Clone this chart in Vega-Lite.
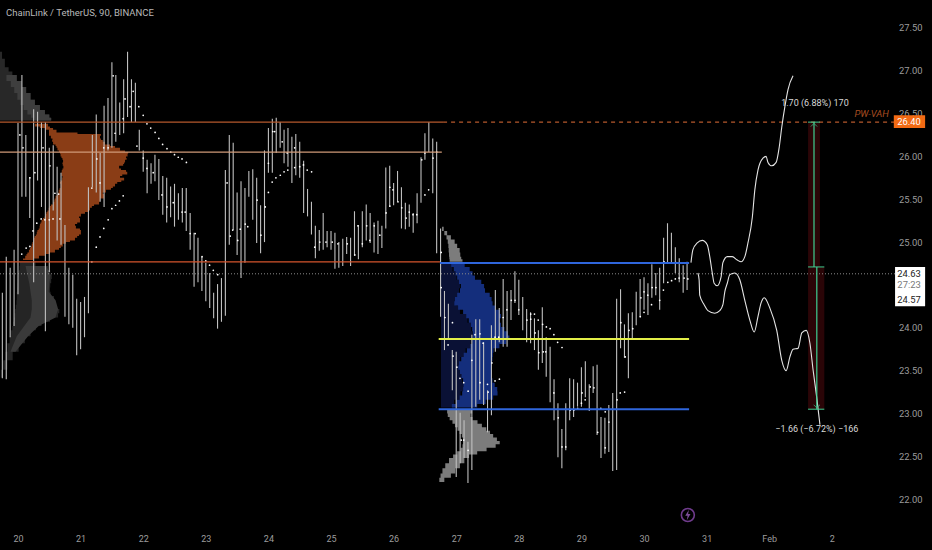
{
"$schema":"https://vega.github.io/schema/vega-lite/v6.json",
"width":932,"height":550,"padding":0,"autosize":{"type":"none"},
"background":"#000000",
"config":{"view":{"stroke":null},"font":"Roboto"},
"datasets":{
"bars":[
{"t":19.75,"p":23.41,"hi":24.41},{"t":19.8125,"p":23.40,"hi":24.83},{"t":19.875,"p":23.89,"hi":24.70},{"t":19.9375,"p":24.02,"hi":24.91},
{"t":20.0,"p":24.39,"hi":26.39},{"t":20.0625,"p":25.53,"hi":26.95},{"t":20.125,"p":25.53,"hi":26.25},{"t":20.1875,"p":25.28,"hi":25.76},
{"t":20.25,"p":24.53,"hi":26.55},{"t":20.3125,"p":25.72,"hi":26.52},{"t":20.375,"p":25.41,"hi":26.40},{"t":20.4375,"p":23.96,"hi":26.40},
{"t":20.5,"p":24.65,"hi":26.10},{"t":20.5625,"p":25.37,"hi":26.13},{"t":20.625,"p":25.02,"hi":25.88},{"t":20.6875,"p":24.97,"hi":25.81},
{"t":20.75,"p":24.13,"hi":25.20},{"t":20.8125,"p":24.04,"hi":24.70},{"t":20.875,"p":24.00,"hi":24.62},{"t":20.9375,"p":23.68,"hi":24.34},
{"t":21.0,"p":23.75,"hi":24.30},{"t":21.0625,"p":23.89,"hi":24.36},{"t":21.125,"p":24.17,"hi":25.64},{"t":21.1875,"p":25.64,"hi":26.25},
{"t":21.25,"p":25.58,"hi":26.49},{"t":21.3125,"p":25.47,"hi":26.04},{"t":21.375,"p":25.41,"hi":26.59},{"t":21.4375,"p":26.07,"hi":26.68},
{"t":21.5,"p":26.10,"hi":27.10},{"t":21.5625,"p":26.17,"hi":26.95},{"t":21.625,"p":26.25,"hi":26.63},{"t":21.6875,"p":26.27,"hi":26.90},
{"t":21.75,"p":26.46,"hi":27.22},{"t":21.8125,"p":26.40,"hi":26.90},{"t":21.875,"p":26.40,"hi":26.86},{"t":21.9375,"p":26.07,"hi":26.31},
{"t":22.0,"p":25.82,"hi":26.07},{"t":22.0625,"p":25.57,"hi":25.96},{"t":22.125,"p":25.68,"hi":25.92},{"t":22.1875,"p":25.71,"hi":26.02},
{"t":22.25,"p":25.49,"hi":25.97},{"t":22.3125,"p":25.32,"hi":25.77},{"t":22.375,"p":25.23,"hi":25.75},{"t":22.4375,"p":25.29,"hi":25.65},
{"t":22.5,"p":25.18,"hi":25.68},{"t":22.5625,"p":25.26,"hi":25.57},{"t":22.625,"p":25.23,"hi":25.63},{"t":22.6875,"p":25.13,"hi":25.63},
{"t":22.75,"p":24.91,"hi":25.34},{"t":22.8125,"p":24.48,"hi":25.11},{"t":22.875,"p":24.53,"hi":25.05},{"t":22.9375,"p":24.43,"hi":24.83},
{"t":23.0,"p":24.31,"hi":24.76},{"t":23.0625,"p":24.23,"hi":24.64},{"t":23.125,"p":24.11,"hi":24.41},{"t":23.1875,"p":23.99,"hi":24.51},
{"t":23.25,"p":24.07,"hi":24.58},{"t":23.3125,"p":24.14,"hi":25.84},{"t":23.375,"p":24.97,"hi":26.25},{"t":23.4375,"p":25.14,"hi":26.16},
{"t":23.5,"p":24.85,"hi":25.58},{"t":23.5625,"p":24.58,"hi":25.71},{"t":23.625,"p":24.76,"hi":25.63},{"t":23.6875,"p":25.53,"hi":25.83},
{"t":23.75,"p":25.26,"hi":25.85},{"t":23.8125,"p":24.99,"hi":25.75},{"t":23.875,"p":24.87,"hi":25.43},{"t":23.9375,"p":25.00,"hi":26.07},
{"t":24.0,"p":25.81,"hi":26.33},{"t":24.0625,"p":25.81,"hi":26.44},{"t":24.125,"p":26.04,"hi":26.45},{"t":24.1875,"p":26.10,"hi":26.40},
{"t":24.25,"p":25.92,"hi":26.31},{"t":24.3125,"p":25.88,"hi":26.33},{"t":24.375,"p":25.69,"hi":26.23},{"t":24.4375,"p":25.78,"hi":26.26},
{"t":24.5,"p":25.75,"hi":26.17},{"t":24.5625,"p":25.34,"hi":25.95},{"t":24.625,"p":25.30,"hi":25.62},{"t":24.6875,"p":25.09,"hi":25.47},
{"t":24.75,"p":24.81,"hi":25.19},{"t":24.8125,"p":24.90,"hi":25.14},{"t":24.875,"p":24.91,"hi":25.34},{"t":24.9375,"p":24.94,"hi":25.13},
{"t":25.0,"p":24.91,"hi":25.13},{"t":25.0625,"p":24.69,"hi":25.11},{"t":25.125,"p":24.70,"hi":25.00},{"t":25.1875,"p":24.72,"hi":25.04},
{"t":25.25,"p":24.86,"hi":25.06},{"t":25.3125,"p":24.72,"hi":25.05},{"t":25.375,"p":24.84,"hi":25.36},{"t":25.4375,"p":24.80,"hi":25.20},
{"t":25.5,"p":24.94,"hi":25.36},{"t":25.5625,"p":25.02,"hi":25.44},{"t":25.625,"p":24.99,"hi":25.34},{"t":25.6875,"p":24.88,"hi":25.23},
{"t":25.75,"p":24.86,"hi":25.25},{"t":25.8125,"p":24.93,"hi":25.19},{"t":25.875,"p":25.16,"hi":25.87},{"t":25.9375,"p":25.41,"hi":25.89},
{"t":26.0,"p":25.43,"hi":25.69},{"t":26.0625,"p":25.47,"hi":25.83},{"t":26.125,"p":25.16,"hi":25.64},{"t":26.1875,"p":25.15,"hi":25.46},
{"t":26.25,"p":25.18,"hi":25.44},{"t":26.3125,"p":25.11,"hi":25.34},{"t":26.375,"p":25.22,"hi":25.57},{"t":26.4375,"p":25.46,"hi":25.99},
{"t":26.5,"p":25.96,"hi":26.27},{"t":26.5625,"p":26.05,"hi":26.40},{"t":26.625,"p":25.57,"hi":26.21},{"t":26.6875,"p":24.87,"hi":26.17},
{"t":26.75,"p":24.13,"hi":25.16},{"t":26.8125,"p":23.74,"hi":24.43},{"t":26.875,"p":23.86,"hi":24.28},{"t":26.9375,"p":23.27,"hi":23.74},
{"t":27.0,"p":22.26,"hi":23.72},{"t":27.0625,"p":22.42,"hi":23.01},{"t":27.125,"p":22.48,"hi":22.92},{"t":27.1875,"p":22.19,"hi":22.67},
{"t":27.25,"p":22.34,"hi":23.92},{"t":27.3125,"p":23.08,"hi":24.10},{"t":27.375,"p":23.16,"hi":24.10},{"t":27.4375,"p":23.10,"hi":23.83},
{"t":27.5,"p":22.78,"hi":23.27},{"t":27.5625,"p":22.98,"hi":24.03},{"t":27.625,"p":23.72,"hi":24.44},{"t":27.6875,"p":23.83,"hi":24.23},
{"t":27.75,"p":23.78,"hi":24.57},{"t":27.8125,"p":23.78,"hi":24.43},{"t":27.875,"p":24.09,"hi":24.44},{"t":27.9375,"p":24.29,"hi":24.66},
{"t":28.0,"p":24.15,"hi":24.56},{"t":28.0625,"p":23.97,"hi":24.36},{"t":28.125,"p":23.83,"hi":24.22},{"t":28.1875,"p":23.82,"hi":24.18},
{"t":28.25,"p":23.74,"hi":24.11},{"t":28.3125,"p":23.51,"hi":23.97},{"t":28.375,"p":23.59,"hi":24.24},{"t":28.4375,"p":23.43,"hi":23.89},
{"t":28.5,"p":23.13,"hi":23.78},{"t":28.5625,"p":22.92,"hi":23.40},{"t":28.625,"p":22.49,"hi":23.12},{"t":28.6875,"p":22.36,"hi":22.82},
{"t":28.75,"p":22.57,"hi":23.12},{"t":28.8125,"p":22.92,"hi":23.41},{"t":28.875,"p":22.96,"hi":23.40},{"t":28.9375,"p":23.08,"hi":23.36},
{"t":29.0,"p":23.08,"hi":23.54},{"t":29.0625,"p":23.19,"hi":23.61},{"t":29.125,"p":23.03,"hi":23.34},{"t":29.1875,"p":23.24,"hi":23.55},
{"t":29.25,"p":22.75,"hi":23.57},{"t":29.3125,"p":22.48,"hi":22.96},{"t":29.375,"p":22.53,"hi":22.95},{"t":29.4375,"p":22.55,"hi":23.10},
{"t":29.5,"p":22.33,"hi":23.24},{"t":29.5625,"p":22.34,"hi":24.34},{"t":29.625,"p":23.76,"hi":24.45},{"t":29.6875,"p":23.65,"hi":24.04},
{"t":29.75,"p":23.41,"hi":24.17},{"t":29.8125,"p":23.88,"hi":24.18},{"t":29.875,"p":24.03,"hi":24.42},{"t":29.9375,"p":24.13,"hi":24.57},
{"t":30.0,"p":24.21,"hi":24.59},{"t":30.0625,"p":24.15,"hi":24.52},{"t":30.125,"p":24.35,"hi":24.74},{"t":30.1875,"p":24.38,"hi":24.64},
{"t":30.25,"p":24.21,"hi":24.70},{"t":30.3125,"p":24.52,"hi":25.05},{"t":30.375,"p":24.76,"hi":25.22},{"t":30.4375,"p":24.76,"hi":25.11},
{"t":30.5,"p":24.64,"hi":24.94},{"t":30.5625,"p":24.53,"hi":24.81},{"t":30.625,"p":24.41,"hi":24.73},{"t":30.6875,"p":24.44,"hi":24.77}
],
"closes":[
{"t":20.03,"p":26.25},{"t":20.08,"p":26.10},{"t":20.19,"p":25.75},{"t":20.27,"p":25.81},{"t":20.40,"p":26.10},{"t":20.51,"p":25.89},{"t":20.59,"p":25.57},{"t":20.65,"p":25.56},{"t":20.67,"p":25.27},{"t":21.18,"p":25.63},{"t":21.26,"p":25.97},{"t":21.31,"p":25.69},{"t":21.37,"p":26.10},{"t":21.44,"p":26.10},{"t":21.55,"p":26.27},{"t":21.52,"p":26.94},{"t":21.68,"p":26.44},{"t":21.71,"p":26.67},{"t":21.79,"p":26.58},{"t":21.84,"p":26.76},{"t":21.90,"p":26.12},{"t":22.0,"p":25.98},{"t":22.06,"p":25.86},{"t":22.16,"p":25.81},{"t":22.30,"p":25.55},{"t":22.38,"p":25.41},{"t":22.48,"p":25.46},{"t":22.62,"p":25.35},{"t":22.67,"p":25.35},{"t":22.75,"p":25.10},{"t":22.83,"p":25.10},{"t":23.34,"p":25.69},{"t":23.39,"p":25.07},{"t":23.43,"p":25.14},{"t":23.51,"p":25.02},{"t":23.55,"p":25.15},{"t":23.63,"p":25.21},{"t":23.67,"p":25.18},{"t":23.82,"p":25.49},{"t":23.88,"p":25.08},{"t":23.95,"p":25.41},{"t":24.0,"p":25.92},{"t":24.07,"p":26.29},{"t":24.10,"p":26.29},{"t":24.22,"p":26.17},{"t":24.30,"p":26.04},{"t":24.42,"p":26.10},{"t":24.42,"p":25.87},{"t":24.50,"p":25.88},{"t":24.74,"p":24.94},{"t":24.82,"p":25.00},{"t":24.92,"p":25.00},{"t":25.02,"p":25.00},{"t":25.11,"p":24.98},{"t":25.26,"p":24.98},{"t":25.38,"p":24.85},{"t":25.43,"p":25.19},{"t":25.50,"p":24.98},{"t":25.57,"p":25.19},{"t":25.62,"p":25.02},{"t":25.69,"p":25.19},{"t":25.78,"p":25.08},{"t":25.88,"p":25.34},{"t":25.94,"p":25.64},{"t":25.99,"p":25.61},{"t":26.07,"p":25.47},{"t":26.13,"p":25.40},{"t":26.20,"p":25.28},{"t":26.25,"p":25.35},{"t":26.31,"p":25.32},{"t":26.37,"p":25.32},{"t":26.45,"p":25.96},{"t":26.50,"p":26.04},{"t":26.63,"p":25.98},{"t":26.69,"p":26.05},{"t":26.76,"p":24.88},{"t":26.76,"p":24.47},{"t":26.82,"p":24.12},{"t":26.87,"p":23.80},{"t":26.95,"p":23.67},{"t":27.01,"p":23.54},{"t":27.08,"p":22.69},{"t":27.12,"p":22.69},{"t":27.19,"p":22.57},{"t":27.25,"p":23.62},{"t":27.30,"p":23.92},{"t":27.38,"p":23.93},{"t":27.43,"p":23.82},{"t":27.51,"p":23.25},{"t":27.57,"p":23.59},{"t":27.62,"p":23.89},{"t":27.68,"p":23.89},{"t":27.75,"p":24.12},{"t":27.81,"p":24.21},{"t":27.88,"p":24.32},{"t":27.94,"p":24.32},{"t":28.0,"p":24.21},{"t":28.13,"p":24.09},{"t":28.19,"p":24.10},{"t":28.26,"p":23.94},{"t":28.32,"p":23.71},{"t":28.39,"p":23.72},{"t":28.43,"p":23.72},{"t":28.56,"p":23.24},{"t":28.63,"p":22.95},{"t":28.69,"p":22.61},{"t":28.75,"p":22.61},{"t":28.82,"p":23.04},{"t":28.88,"p":23.04},{"t":29.01,"p":23.24},{"t":29.14,"p":23.31},{"t":29.20,"p":23.30},{"t":29.26,"p":22.78},{"t":29.38,"p":22.60},{"t":29.44,"p":22.90},{"t":29.57,"p":23.16},{"t":29.63,"p":24.06},{"t":29.70,"p":23.66},{"t":29.76,"p":23.97},{"t":29.82,"p":23.99},{"t":29.95,"p":24.35},{"t":30.0,"p":24.42},{"t":30.06,"p":24.38},{"t":30.13,"p":24.47},{"t":30.19,"p":24.47},{"t":30.32,"p":24.77},{"t":30.51,"p":24.76},{"t":30.64,"p":24.58},{"t":30.70,"p":24.57}
],
"sar":[
{"t":20.06,"p":24.86},{"t":20.13,"p":24.93},{"t":20.19,"p":24.95},{"t":20.24,"p":25.13},{"t":20.30,"p":25.22},{"t":20.37,"p":25.27},{"t":20.43,"p":25.26},{"t":20.50,"p":25.26},{"t":20.56,"p":25.27},
{"t":21.18,"p":24.77},{"t":21.25,"p":24.94},{"t":21.31,"p":25.06},{"t":21.37,"p":25.16},{"t":21.44,"p":25.26},{"t":21.50,"p":25.39},{"t":21.56,"p":25.43},{"t":21.62,"p":25.48},{"t":21.68,"p":25.54},
{"t":21.93,"p":26.58},{"t":22.0,"p":26.48},{"t":22.06,"p":26.38},{"t":22.12,"p":26.33},{"t":22.19,"p":26.28},{"t":22.25,"p":26.21},{"t":22.31,"p":26.14},{"t":22.38,"p":26.09},{"t":22.44,"p":26.05},{"t":22.5,"p":26.02},{"t":22.56,"p":25.99},{"t":22.62,"p":25.97},{"t":22.69,"p":25.93},
{"t":22.94,"p":24.83},{"t":23.0,"p":24.78},{"t":23.06,"p":24.73},{"t":23.12,"p":24.67},{"t":23.19,"p":24.62},
{"t":24.0,"p":25.58},{"t":24.06,"p":25.70},{"t":24.12,"p":25.75},{"t":24.19,"p":25.78},{"t":24.25,"p":25.82},{"t":24.31,"p":25.84},
{"t":24.56,"p":25.90},{"t":24.62,"p":25.84},{"t":24.69,"p":25.82},{"t":25.94,"p":25.42},{"t":26.5,"p":25.55},{"t":26.56,"p":25.61},
{"t":26.94,"p":24.06},{"t":27.06,"p":23.41},{"t":27.12,"p":23.36},{"t":27.19,"p":23.26},{"t":27.38,"p":23.36},{"t":27.5,"p":23.34},{"t":27.62,"p":23.38},{"t":27.69,"p":23.40},
{"t":28.19,"p":24.16},{"t":28.25,"p":24.16},{"t":28.31,"p":24.09},{"t":28.38,"p":24.04},{"t":28.44,"p":24.01},{"t":28.5,"p":23.99},{"t":28.56,"p":23.92},{"t":28.62,"p":23.83},{"t":28.69,"p":23.77},
{"t":28.94,"p":23.06},{"t":29.0,"p":23.12},{"t":29.06,"p":23.16},{"t":29.31,"p":23.06},{"t":29.38,"p":23.02},{"t":29.62,"p":23.24},{"t":29.69,"p":23.25},
{"t":29.94,"p":24.13},{"t":30.0,"p":24.18},{"t":30.12,"p":24.27},{"t":30.25,"p":24.32},{"t":30.31,"p":24.44},{"t":30.38,"p":24.53},{"t":30.44,"p":24.55},{"t":30.5,"p":24.57},{"t":30.56,"p":24.58}
],
"upper":[
{"t":30.75,"p":24.76},{"t":30.78,"p":24.91},{"t":30.85,"p":24.99},{"t":30.93,"p":25.02},{"t":31.01,"p":24.97},{"t":31.05,"p":24.83},{"t":31.09,"p":24.64},{"t":31.12,"p":24.52},{"t":31.17,"p":24.49},{"t":31.23,"p":24.59},{"t":31.26,"p":24.76},{"t":31.33,"p":24.83},{"t":31.41,"p":24.83},{"t":31.49,"p":24.79},{"t":31.55,"p":24.77},{"t":31.61,"p":24.83},{"t":31.66,"p":24.99},{"t":31.73,"p":25.29},{"t":31.77,"p":25.61},{"t":31.82,"p":25.84},{"t":31.90,"p":25.98},{"t":31.95,"p":26.00},{"t":31.98,"p":25.93},{"t":32.04,"p":25.89},{"t":32.11,"p":25.93},{"t":32.16,"p":26.11},{"t":32.20,"p":26.34},{"t":32.25,"p":26.58},{"t":32.30,"p":26.78},{"t":32.38,"p":26.94}
],
"lower":[
{"t":30.86,"p":24.64},{"t":30.88,"p":24.56},{"t":30.89,"p":24.38},{"t":30.96,"p":24.27},{"t":31.02,"p":24.20},{"t":31.13,"p":24.17},{"t":31.21,"p":24.20},{"t":31.26,"p":24.27},{"t":31.29,"p":24.42},{"t":31.33,"p":24.52},{"t":31.37,"p":24.62},{"t":31.45,"p":24.64},{"t":31.53,"p":24.56},{"t":31.61,"p":24.32},{"t":31.69,"p":24.09},{"t":31.76,"p":23.95},{"t":31.82,"p":24.13},{"t":31.87,"p":24.29},{"t":31.92,"p":24.35},{"t":32.01,"p":24.23},{"t":32.12,"p":23.97},{"t":32.20,"p":23.62},{"t":32.27,"p":23.50},{"t":32.33,"p":23.66},{"t":32.38,"p":23.75},{"t":32.46,"p":23.76},{"t":32.52,"p":23.94},{"t":32.59,"p":23.97},{"t":32.65,"p":23.82},{"t":32.70,"p":23.51},{"t":32.76,"p":23.18},{"t":32.81,"p":22.87}
],
"orangeVA":[
{"p":26.38,"t":20.22,"t2":20.42},{"p":26.35,"t":20.32,"t2":20.54},{"p":26.33,"t":20.38,"t2":20.48},{"p":26.31,"t":20.48,"t2":20.64},{"p":26.28,"t":20.51,"t2":20.59},{"p":26.26,"t":20.48,"t2":21.31},{"p":26.24,"t":20.51,"t2":21.34},{"p":26.21,"t":20.54,"t2":21.28},{"p":26.19,"t":20.56,"t2":21.37},{"p":26.17,"t":20.53,"t2":21.34},{"p":26.14,"t":20.59,"t2":21.44},{"p":26.12,"t":20.61,"t2":21.50},{"p":26.10,"t":20.62,"t2":21.60},{"p":26.07,"t":20.64,"t2":21.66},{"p":26.05,"t":20.67,"t2":21.76},{"p":26.03,"t":20.67,"t2":21.76},{"p":26.00,"t":20.69,"t2":21.74},{"p":25.98,"t":20.70,"t2":21.71},{"p":25.96,"t":20.72,"t2":21.76},{"p":25.93,"t":20.72,"t2":21.66},{"p":25.91,"t":20.70,"t2":21.73},{"p":25.89,"t":20.73,"t2":21.63},{"p":25.86,"t":20.72,"t2":21.60},{"p":25.84,"t":20.70,"t2":21.69},{"p":25.82,"t":20.70,"t2":21.76},{"p":25.79,"t":20.69,"t2":21.73},{"p":25.77,"t":20.70,"t2":21.60},{"p":25.75,"t":20.72,"t2":21.66},{"p":25.72,"t":20.69,"t2":21.73},{"p":25.70,"t":20.67,"t2":21.57},{"p":25.68,"t":20.67,"t2":21.60},{"p":25.65,"t":20.69,"t2":21.50},{"p":25.63,"t":20.67,"t2":21.53},{"p":25.61,"t":20.66,"t2":21.44},{"p":25.58,"t":20.64,"t2":21.37},{"p":25.56,"t":20.64,"t2":21.34},{"p":25.54,"t":20.61,"t2":21.41},{"p":25.51,"t":20.59,"t2":21.34},{"p":25.49,"t":20.58,"t2":21.28},{"p":25.47,"t":20.58,"t2":21.34},{"p":25.44,"t":20.54,"t2":21.25},{"p":25.42,"t":20.51,"t2":21.18},{"p":25.40,"t":20.50,"t2":21.18},{"p":25.37,"t":20.48,"t2":21.12},{"p":25.35,"t":20.46,"t2":21.12},{"p":25.33,"t":20.45,"t2":21.02},{"p":25.30,"t":20.43,"t2":20.99},{"p":25.28,"t":20.42,"t2":20.96},{"p":25.26,"t":20.38,"t2":21.02},{"p":25.23,"t":20.37,"t2":20.96},{"p":25.21,"t":20.35,"t2":20.93},{"p":25.19,"t":20.35,"t2":20.89},{"p":25.16,"t":20.34,"t2":20.96},{"p":25.14,"t":20.32,"t2":21.02},{"p":25.12,"t":20.30,"t2":20.99},{"p":25.09,"t":20.30,"t2":21.02},{"p":25.07,"t":20.27,"t2":20.93},{"p":25.05,"t":20.26,"t2":20.96},{"p":25.02,"t":20.24,"t2":20.86},{"p":25.00,"t":20.24,"t2":20.80},{"p":24.98,"t":20.22,"t2":20.73},{"p":24.95,"t":20.22,"t2":20.70},{"p":24.93,"t":20.19,"t2":20.67},{"p":24.91,"t":20.19,"t2":20.64},{"p":24.88,"t":20.16,"t2":20.54},{"p":24.86,"t":20.14,"t2":20.48},{"p":24.84,"t":20.13,"t2":20.38},{"p":24.81,"t":20.10,"t2":20.29},{"p":24.79,"t":20.06,"t2":20.19}
],
"grayTopDark":[
{"p":27.22,"t":19.7125,"t2":19.73},{"p":27.14,"t":19.7125,"t2":19.76},{"p":27.04,"t":19.7125,"t2":19.82},{"p":26.99,"t":19.7125,"t2":19.88},{"p":26.95,"t":19.7125,"t2":19.94},{"p":26.88,"t":19.7125,"t2":20.02},{"p":26.81,"t":19.7125,"t2":20.10},{"p":26.74,"t":19.7125,"t2":20.16},{"p":26.66,"t":19.7125,"t2":20.24},{"p":26.60,"t":19.7125,"t2":20.30},{"p":26.54,"t":19.7125,"t2":20.40},{"p":26.49,"t":19.7125,"t2":20.46},{"p":26.45,"t":19.7125,"t2":20.54},{"p":26.42,"t":19.7125,"t2":20.52}
],
"grayTopLight":[
{"p":26.95,"t":19.78,"t2":19.94},{"p":26.88,"t":19.85,"t2":20.02},{"p":26.81,"t":19.92,"t2":20.10},{"p":26.74,"t":19.96,"t2":20.16},{"p":26.66,"t":20.02,"t2":20.24},{"p":26.60,"t":20.06,"t2":20.30},{"p":26.54,"t":20.12,"t2":20.40},{"p":26.49,"t":20.18,"t2":20.46},{"p":26.45,"t":20.24,"t2":20.54},{"p":26.42,"t":20.28,"t2":20.52}
],
"grayBottom":[
{"p":24.77,"t":20.03,"t2":20.11},{"p":24.72,"t":20.03,"t2":20.45},{"p":24.67,"t":20.02,"t2":20.51},{"p":24.62,"t":20.00,"t2":20.52},{"p":24.57,"t":20.00,"t2":20.56},{"p":24.52,"t":19.99,"t2":20.50},{"p":24.47,"t":19.99,"t2":20.53},{"p":24.42,"t":19.98,"t2":20.49},{"p":24.37,"t":19.98,"t2":20.55},{"p":24.32,"t":19.98,"t2":20.60},{"p":24.27,"t":19.97,"t2":20.58},{"p":24.22,"t":19.96,"t2":20.64},{"p":24.17,"t":19.95,"t2":20.68},{"p":24.12,"t":19.94,"t2":20.60},{"p":24.07,"t":19.93,"t2":20.42},{"p":24.02,"t":19.92,"t2":20.33},{"p":23.97,"t":19.90,"t2":20.24},{"p":23.90,"t":19.88,"t2":20.16},{"p":23.82,"t":19.85,"t2":20.06},{"p":23.72,"t":19.81,"t2":19.96},{"p":23.62,"t":19.79,"t2":19.87},{"p":23.51,"t":19.74,"t2":19.79},{"p":23.42,"t":19.7125,"t2":19.73}
],
"grayBottomLight":[
{"p":24.72,"t":20.12,"t2":20.45},{"p":24.62,"t":20.15,"t2":20.52},{"p":24.52,"t":20.18,"t2":20.50},{"p":24.42,"t":20.2,"t2":20.49},{"p":24.32,"t":20.22,"t2":20.60},{"p":24.22,"t":20.22,"t2":20.64},{"p":24.12,"t":20.2,"t2":20.60},{"p":24.02,"t":20.1,"t2":20.33},{"p":23.90,"t":19.98,"t2":20.16},{"p":23.72,"t":19.88,"t2":19.96}
],
"rightTop":[
{"p":25.18,"t":26.757,"t2":26.77},{"p":25.13,"t":26.79,"t2":26.83},{"p":25.08,"t":26.83,"t2":26.88},{"p":25.03,"t":26.86,"t2":26.95},{"p":24.98,"t":26.87,"t2":27.00},{"p":24.93,"t":26.88,"t2":27.03},{"p":24.88,"t":26.88,"t2":27.08},{"p":24.83,"t":26.89,"t2":27.05},{"p":24.80,"t":26.89,"t2":27.11},{"p":24.77,"t":26.90,"t2":27.09}
],
"rightBlue":[
{"p":24.76,"t":26.90,"t2":27.09},{"p":24.71,"t":26.94,"t2":27.18},{"p":24.66,"t":26.98,"t2":27.25},{"p":24.61,"t":27.00,"t2":27.27},{"p":24.56,"t":27.03,"t2":27.33},{"p":24.51,"t":27.06,"t2":27.47},{"p":24.46,"t":27.09,"t2":27.42},{"p":24.41,"t":27.03,"t2":27.50},{"p":24.36,"t":27.00,"t2":27.57},{"p":24.31,"t":26.96,"t2":27.56},{"p":24.26,"t":26.98,"t2":27.60},{"p":24.21,"t":27.08,"t2":27.66},{"p":24.16,"t":27.14,"t2":27.73},{"p":24.11,"t":27.18,"t2":27.70},{"p":24.06,"t":27.22,"t2":27.68},{"p":24.01,"t":27.25,"t2":27.75},{"p":23.96,"t":27.26,"t2":27.79},{"p":23.91,"t":27.27,"t2":27.86},{"p":23.86,"t":27.26,"t2":27.84},{"p":23.81,"t":27.25,"t2":27.76},{"p":23.76,"t":27.20,"t2":27.62},{"p":23.71,"t":27.14,"t2":27.57},{"p":23.66,"t":27.10,"t2":27.60},{"p":23.61,"t":27.06,"t2":27.56},{"p":23.56,"t":27.03,"t2":27.58},{"p":23.51,"t":27.04,"t2":27.55},{"p":23.46,"t":27.07,"t2":27.58},{"p":23.41,"t":27.10,"t2":27.56},{"p":23.36,"t":27.12,"t2":27.60},{"p":23.31,"t":27.11,"t2":27.63},{"p":23.26,"t":27.11,"t2":27.68},{"p":23.21,"t":27.08,"t2":27.64},{"p":23.16,"t":27.03,"t2":27.54},{"p":23.11,"t":26.96,"t2":27.40},{"p":23.07,"t":26.90,"t2":27.27}
],
"rightDark":[
{"p":24.76,"t":26.757,"t2":26.90},{"p":24.66,"t":26.757,"t2":26.98},{"p":24.56,"t":26.757,"t2":27.03},{"p":24.46,"t":26.757,"t2":27.09},{"p":24.36,"t":26.757,"t2":27.00},{"p":24.26,"t":26.757,"t2":26.98},{"p":24.16,"t":26.757,"t2":27.14},{"p":24.06,"t":26.757,"t2":27.22},{"p":23.96,"t":26.757,"t2":27.26},{"p":23.86,"t":26.757,"t2":27.26},{"p":23.76,"t":26.757,"t2":27.20},{"p":23.66,"t":26.757,"t2":27.10},{"p":23.56,"t":26.757,"t2":27.03},{"p":23.46,"t":26.757,"t2":27.07},{"p":23.36,"t":26.757,"t2":27.12},{"p":23.26,"t":26.757,"t2":27.11},{"p":23.16,"t":26.757,"t2":27.03},{"p":23.07,"t":26.757,"t2":26.90}
],
"rightBottom":[
{"p":23.04,"t":26.85,"t2":27.27},{"p":23.0,"t":26.86,"t2":27.24},{"p":22.96,"t":26.87,"t2":27.22},{"p":22.92,"t":26.92,"t2":27.30},{"p":22.88,"t":26.96,"t2":27.38},{"p":22.84,"t":27.0,"t2":27.44},{"p":22.80,"t":27.04,"t2":27.52},{"p":22.76,"t":27.07,"t2":27.56},{"p":22.72,"t":27.11,"t2":27.62},{"p":22.68,"t":27.11,"t2":27.68},{"p":22.64,"t":27.11,"t2":27.71},{"p":22.60,"t":27.09,"t2":27.55},{"p":22.56,"t":27.05,"t2":27.42},{"p":22.52,"t":26.98,"t2":27.25},{"p":22.48,"t":26.92,"t2":27.16},{"p":22.42,"t":26.85,"t2":27.10},{"p":22.36,"t":26.80,"t2":27.02},{"p":22.30,"t":26.76,"t2":26.95},{"p":22.25,"t":26.74,"t2":26.88},{"p":22.20,"t":26.72,"t2":26.74}
]
},
"encoding":{
"x":{"field":"t","type":"quantitative","scale":{"domain":[19.7125,34.6],"nice":false,"zero":false},
"axis":{"orient":"bottom","title":null,"values":[20,21,22,23,24,25,26,27,28,29,30,31,32,33],"labelExpr":"datum.value==32?'Feb':datum.value==33?'2':format(datum.value,'d')","domain":false,"ticks":false,"grid":false,"labelPadding":-12,"labelBaseline":"middle","labelColor":"#9c9c9c","labelFontSize":9,"labelFont":"Roboto"}},
"y":{"field":"p","type":"quantitative","scale":{"domain":[21.407,27.825],"nice":false,"zero":false},
"axis":{"orient":"right","title":null,"values":[22,22.5,23,23.5,24,24.5,25,25.5,26,26.5,27,27.5],"format":".2f","domain":false,"ticks":false,"grid":false,"labelAlign":"right","labelPadding":-10,"labelColor":"#9c9c9c","labelFontSize":9.4,"labelFont":"Roboto"}}
},
"layer":[
{"data":{"name":"grayTopDark"},"mark":{"type":"area","orient":"horizontal","color":"#282828","interpolate":"step"},"encoding":{"x2":{"field":"t2"}}},
{"data":{"name":"grayTopLight"},"mark":{"type":"area","orient":"horizontal","color":"#3e3e3e","interpolate":"step"},"encoding":{"x2":{"field":"t2"}}},
{"data":{"name":"grayBottom"},"mark":{"type":"area","orient":"horizontal","color":"#252525","interpolate":"step"},"encoding":{"x2":{"field":"t2"}}},
{"data":{"name":"grayBottomLight"},"mark":{"type":"area","orient":"horizontal","color":"#3a3a3a","interpolate":"linear"},"encoding":{"x2":{"field":"t2"}}},
{"data":{"name":"orangeVA"},"mark":{"type":"area","orient":"horizontal","color":"#8a3d16","interpolate":"step"},"encoding":{"x2":{"field":"t2"}}},
{"data":{"name":"rightTop"},"mark":{"type":"area","orient":"horizontal","color":"#7c7c7c","interpolate":"step"},"encoding":{"x2":{"field":"t2"}}},
{"data":{"name":"rightDark"},"mark":{"type":"area","orient":"horizontal","color":"#0a1135","interpolate":"step"},"encoding":{"x2":{"field":"t2"}}},
{"data":{"name":"rightBlue"},"mark":{"type":"area","orient":"horizontal","color":"#142e7c","interpolate":"step"},"encoding":{"x2":{"field":"t2"}}},
{"data":{"name":"rightBottom"},"mark":{"type":"area","orient":"horizontal","color":"#7c7c7c","interpolate":"step"},"encoding":{"x2":{"field":"t2"}}},
{"data":{"values":[{"t":32.62,"t2":32.81,"p":26.40,"p2":24.71},{"t":32.62,"t2":32.88,"p":24.71,"p2":23.05}]},"mark":{"type":"rect","color":"#2a0507"},"encoding":{"x2":{"field":"t2"},"y2":{"field":"p2"}}},
{"data":{"values":[{"t":19.7125,"t2":34.01,"p":24.63}]},"mark":{"type":"rule","color":"#8a8a8a","strokeWidth":1,"strokeDash":[1,2]},"encoding":{"x2":{"field":"t2"}}},
{"data":{"name":"bars"},"mark":{"type":"rule","color":"#c0c0c0","strokeWidth":1.1},"encoding":{"y2":{"field":"hi"}}},
{"data":{"name":"closes"},"mark":{"type":"point","filled":true,"color":"#ffffff","size":3,"opacity":1},"encoding":{}},
{"data":{"name":"sar"},"mark":{"type":"point","filled":true,"color":"#ffffff","size":3,"opacity":1},"encoding":{}},
{"data":{"values":[{"t":19.7125,"t2":26.79,"p":26.40}]},"mark":{"type":"rule","color":"#b5582c","strokeWidth":1.3},"encoding":{"x2":{"field":"t2"}}},
{"data":{"values":[{"t":26.79,"t2":34.01,"p":26.40}]},"mark":{"type":"rule","color":"#b5582c","strokeWidth":1.2,"strokeDash":[4,4]},"encoding":{"x2":{"field":"t2"}}},
{"data":{"values":[{"t":19.7125,"t2":26.77,"p":26.05}]},"mark":{"type":"rule","color":"#cf9a78","strokeWidth":1.2},"encoding":{"x2":{"field":"t2"}}},
{"data":{"values":[{"t":19.7125,"t2":26.74,"p":24.77}]},"mark":{"type":"rule","color":"#d4552c","strokeWidth":1.2},"encoding":{"x2":{"field":"t2"}}},
{"data":{"values":[{"t":26.74,"t2":30.72,"p":24.755},{"t":26.72,"t2":30.72,"p":23.05}]},"mark":{"type":"rule","color":"#2f66dc","strokeWidth":2},"encoding":{"x2":{"field":"t2"}}},
{"data":{"values":[{"t":26.72,"t2":30.72,"p":23.87}]},"mark":{"type":"rule","color":"#e3ef48","strokeWidth":2},"encoding":{"x2":{"field":"t2"}}},
{"data":{"name":"upper"},"mark":{"type":"line","color":"#e4e4e4","strokeWidth":1.1,"interpolate":"monotone"},"encoding":{}},
{"data":{"name":"lower"},"mark":{"type":"line","color":"#e4e4e4","strokeWidth":1.1,"interpolate":"monotone"},"encoding":{}},
{"data":{"values":[{"t":32.715,"p":26.40,"hi":24.71},{"t":32.76,"p":24.71,"hi":23.05}]},"mark":{"type":"rule","color":"#3fcf92","strokeWidth":1.2},"encoding":{"y2":{"field":"hi"}}},
{"data":{"values":[{"t":32.62,"t2":32.88,"p":24.71},{"t":32.62,"t2":32.88,"p":23.05},{"t":32.62,"t2":32.81,"p":26.40}]},"mark":{"type":"rule","color":"#3fcf92","strokeWidth":1},"encoding":{"x2":{"field":"t2"}}},
{"data":{"values":[{"t":32.715,"p":26.385}]},"mark":{"type":"point","shape":"M-1,1L0,0L1,1","filled":false,"color":"#3fcf92","size":40,"strokeWidth":1},"encoding":{}},
{"data":{"values":[{"t":32.76,"p":23.065}]},"mark":{"type":"point","shape":"M-1,-1L0,0L1,-1","filled":false,"color":"#3fcf92","size":40,"strokeWidth":1},"encoding":{}},
{"data":{"values":[{"t":33.99,"t2":34.49,"p":26.48,"p2":26.33}]},"mark":{"type":"rect","color":"#f26a13"},"encoding":{"x2":{"field":"t2"},"y2":{"field":"p2"}}},
{"data":{"values":[{"t":34.01,"t2":34.49,"p":24.71,"p2":24.25}]},"mark":{"type":"rect","color":"#ffffff"},"encoding":{"x2":{"field":"t2"},"y2":{"field":"p2"}}},
{"data":{"values":[{"t":34.42,"p":26.40,"label":"26.40"}]},"mark":{"type":"text","align":"right","baseline":"middle","fontSize":9.4,"font":"Roboto","color":"#ffffff"},"encoding":{"text":{"field":"label"}}},
{"data":{"values":[{"t":34.42,"p":24.63,"label":"24.63"},{"t":34.42,"p":24.33,"label":"24.57"}]},"mark":{"type":"text","align":"right","baseline":"middle","fontSize":9.4,"font":"Roboto","color":"#222222"},"encoding":{"text":{"field":"label"}}},
{"data":{"values":[{"t":34.42,"p":24.50,"label":"27:23"}]},"mark":{"type":"text","align":"right","baseline":"middle","fontSize":9.4,"font":"Roboto","color":"#777777"},"encoding":{"text":{"field":"label"}}},
{"data":{"values":[{"t":32.73,"p":26.62,"label":"1.70 (6.88%) 170"},{"t":32.76,"p":22.82,"label":"−1.66 (−6.72%) −166"}]},"mark":{"type":"text","align":"center","baseline":"middle","fontSize":9,"font":"Roboto","color":"#d8d8d8"},"encoding":{"text":{"field":"label"}}},
{"data":{"values":[{"t":33.91,"p":26.50,"label":"PW-VAH"}]},"mark":{"type":"text","align":"right","baseline":"middle","fontSize":9.5,"fontStyle":"italic","font":"Roboto","color":"#a84e20"},"encoding":{"text":{"field":"label"}}},
{"data":{"values":[{"t":19.81,"p":27.67,"label":"ChainLink / TetherUS, 90, BINANCE"}]},"mark":{"type":"text","align":"left","baseline":"middle","fontSize":9.5,"font":"Roboto","color":"#b8b8b8"},"encoding":{"text":{"field":"label"}}},
{"data":{"values":[{"t":30.70,"p":21.815}]},"mark":{"type":"point","shape":"circle","filled":false,"color":"#9f55c8","size":169,"strokeWidth":1.6},"encoding":{}},
{"data":{"values":[{"t":30.70,"p":21.815}]},"mark":{"type":"point","shape":"M0.2,-1L-0.5,0.15L-0.05,0.15L-0.2,1L0.5,-0.2L0.05,-0.2Z","filled":true,"color":"#b06ed8","size":110},"encoding":{}}
]
}
